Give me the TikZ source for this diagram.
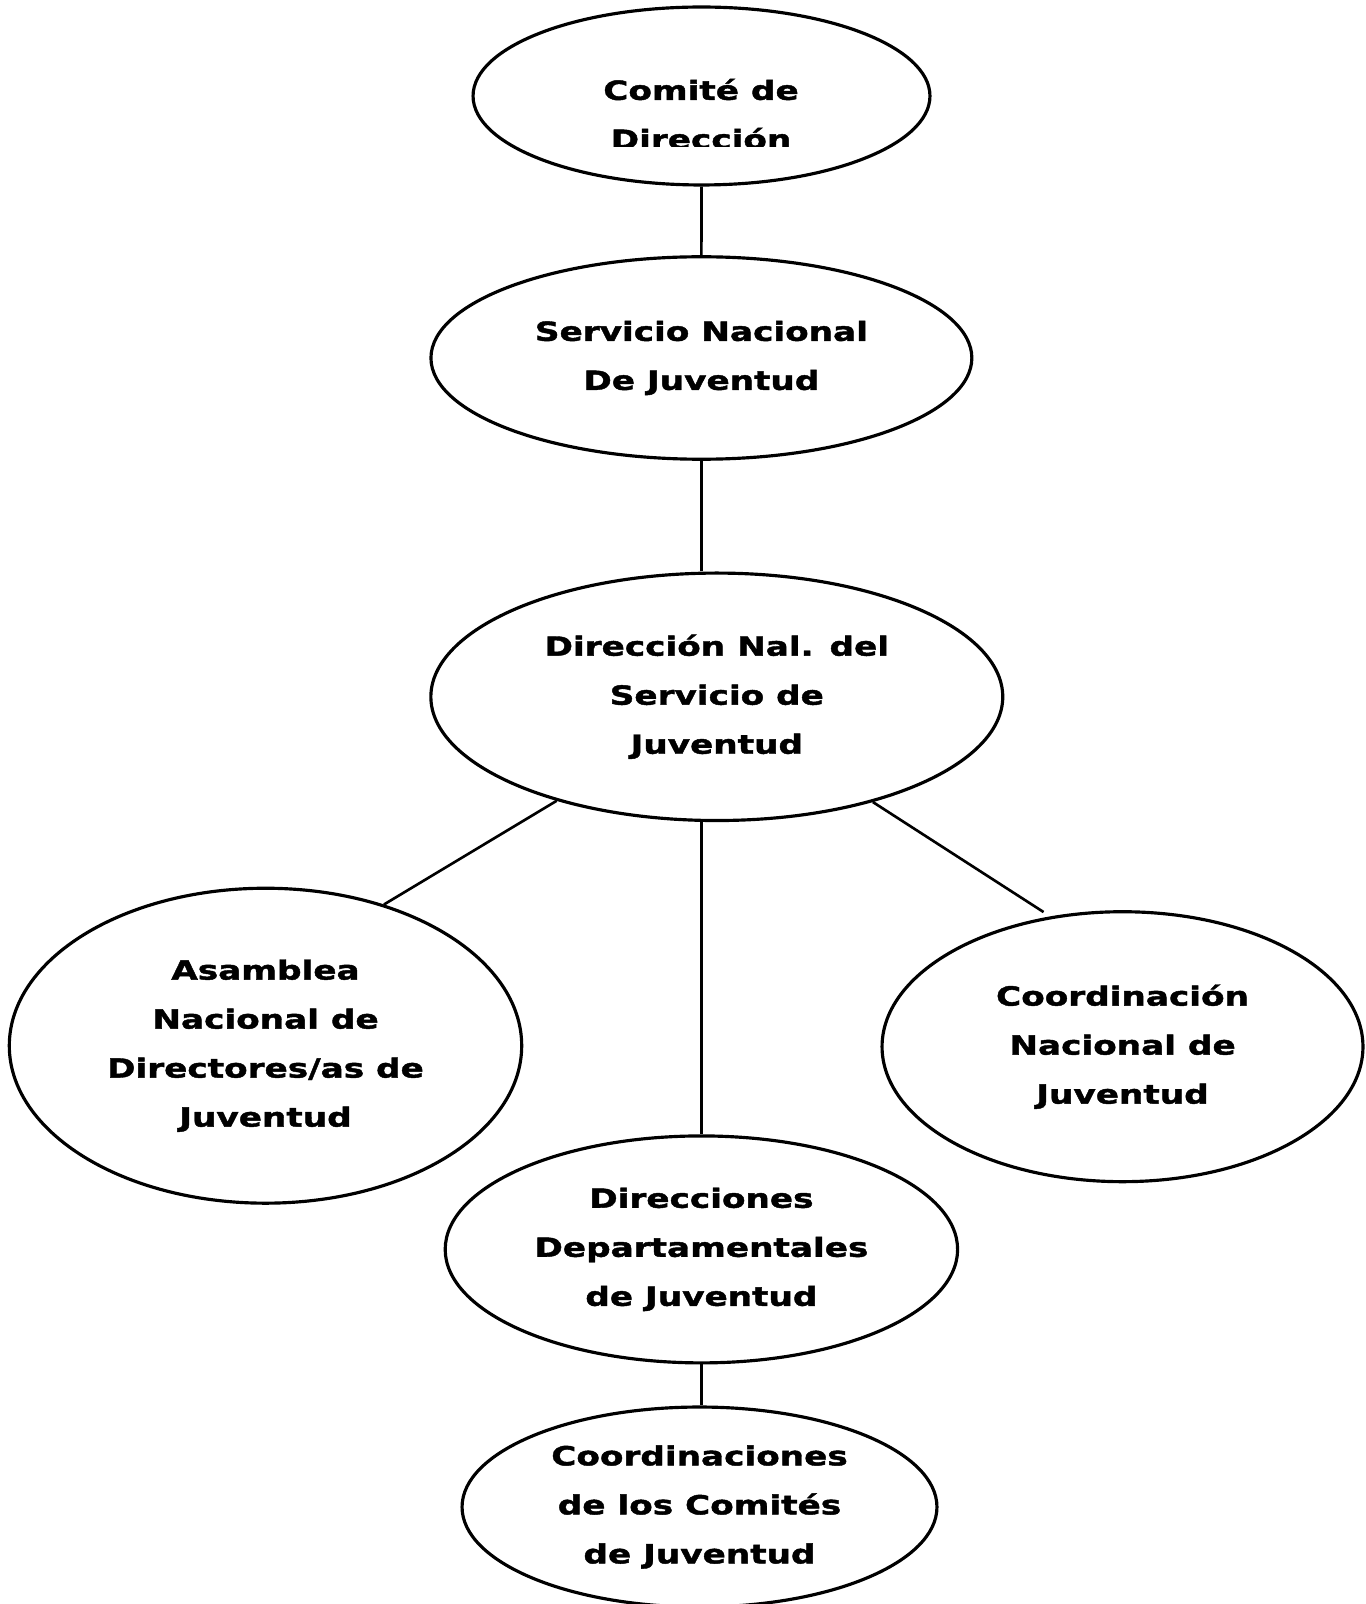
\documentclass[tikz,border=0pt]{standalone}
\usepackage{fontspec}
\newfontfamily\orgfont{DejaVu Sans}[FakeStretch=1.3,FakeBold=1.6]
\usetikzlibrary{shapes.geometric}

\begin{document}
\begin{tikzpicture}[x=0.02cm,y=-0.02cm,
  unit/.style={ellipse,draw,line width=1.8pt,inner sep=0pt,align=center,
    font=\orgfont\bfseries\fontsize{15}{27.9}\selectfont},
  link/.style={line width=1.5pt}]
\useasboundingbox (0,0) rectangle (1365,1604);
\node[unit,minimum width=9.14cm,minimum height=3.56cm] (comite) at (701.5,96) {};
\begin{scope}
\clip (400,0) rectangle (1000,147);
\node[unit,draw=none] (comitetext) at (701,114) {Comité de\\Dirección};
\end{scope}
\node[unit,minimum width=10.82cm,minimum height=4.05cm] (servicio) at (701.4,358) {Servicio Nacional\\De Juventud};
\node[unit,minimum width=11.44cm,minimum height=4.95cm] (dirnal) at (716.8,696.8) {Dirección Nal. del\\Servicio de\\Juventud};
\node[unit,minimum width=10.25cm,minimum height=6.3cm] (asamblea) at (265.5,1045.7) {Asamblea\\Nacional de\\Directores/as de\\Juventud};
\node[unit,minimum width=9.62cm,minimum height=5.4cm] (coordinacion) at (1122.5,1046.7) {Coordinación\\Nacional de\\Juventud};
\node[unit,minimum width=10.25cm,minimum height=4.54cm] (direcciones) at (701.4,1249.4) {Direcciones\\Departamentales\\de Juventud};
\node[unit,minimum width=9.5cm,minimum height=4cm] (coordinaciones) at (699.5,1507) {Coordinaciones\\de los Comités\\de Juventud};
\draw[link] (comite.south) -- (servicio.north);
\draw[link] (servicio.south) -- (servicio.south |- dirnal.north);
\draw[link] (dirnal.213) -- (asamblea.50);
\draw[link] (dirnal.south -| direcciones.north) -- (direcciones.north);
\draw[link,shorten >=0.16cm] (dirnal.326) -- (coordinacion.119);
\draw[link] (direcciones.south) -- (direcciones.south |- coordinaciones.north);
\end{tikzpicture}
\end{document}
